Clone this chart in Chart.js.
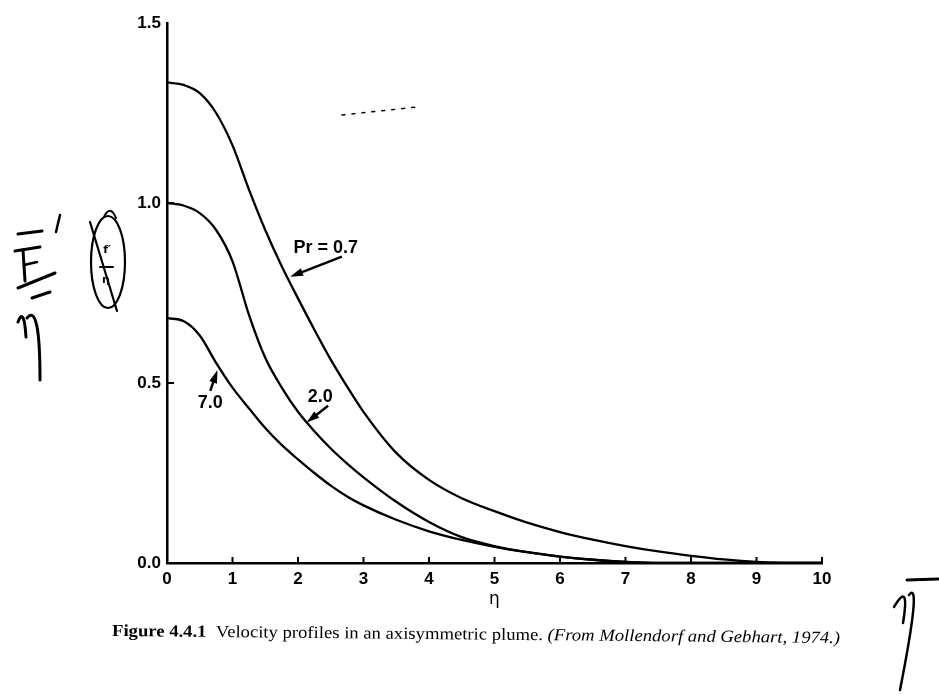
<!DOCTYPE html>
<html>
<head>
<meta charset="utf-8">
<script src="https://cdn.jsdelivr.net/npm/chart.js@4.4.1/dist/chart.umd.min.js"></script>
<style>
html, body { margin: 0; padding: 0; background: #fff; }
</style>
</head>
<body>
<canvas id="chart" width="939" height="698"></canvas>
<script>
// valores (eta, F'/eta)
var eta  = [0, 0.25, 0.5, 0.75, 1, 1.25, 1.5, 1.75, 2, 2.25, 2.5, 2.75, 3, 3.5, 4, 4.5, 5, 5.5, 6, 6.5, 7, 7.5, 8, 8.5, 9, 9.5, 10];
var pr07 = [1.335, 1.328, 1.305, 1.25, 1.16, 1.038, 0.925, 0.825, 0.735, 0.648, 0.565, 0.49, 0.42, 0.306, 0.231, 0.18, 0.144, 0.112, 0.086, 0.065, 0.047, 0.032, 0.02, 0.01, 0.003, 0, 0];
var pr20 = [1.0, 0.993, 0.972, 0.925, 0.838, 0.69, 0.57, 0.488, 0.42, 0.366, 0.318, 0.276, 0.238, 0.17, 0.114, 0.072, 0.047, 0.03, 0.018, 0.009, 0.003, 0, 0, 0, 0, 0, 0];
var pr70 = [0.68, 0.672, 0.632, 0.556, 0.487, 0.43, 0.375, 0.328, 0.288, 0.25, 0.215, 0.185, 0.16, 0.12, 0.088, 0.064, 0.045, 0.03, 0.018, 0.009, 0.003, 0, 0, 0, 0, 0, 0];

var xTicks = [0, 1, 2, 3, 4, 5, 6, 7, 8, 9, 10];
var yTicks = [0.5, 1.0];

// rotulos das curvas: [texto, x do texto, y do texto, cauda x, cauda y, ponta x, ponta y]
var rotulos = [
    ['Pr = 0.7', 1.93, 0.862, 2.67, 0.851, 1.88, 0.795],
    ['2.0', 2.15, 0.446, 2.46, 0.437, 2.13, 0.39],
    ['7.0', 0.47, 0.43, 0.66, 0.478, 0.77, 0.536]
];

function pontos(ys) {
    var out = [];
    for (let i = 0; i < eta.length; i++) out.push({x: eta[i], y: ys[i]});
    return out;
}

function serie(label, ys) {
    return {
        label: label,
        data: pontos(ys),
        borderColor: '#000',
        backgroundColor: '#000',
        borderWidth: 2.3,
        pointRadius: 0,
        fill: false,
        cubicInterpolationMode: 'monotone'
    };
}

function seta(ctx, x1, y1, x2, y2) {
    var ang = Math.atan2(y2 - y1, x2 - x1);
    ctx.beginPath();
    ctx.moveTo(x1, y1);
    ctx.lineTo(x2 - 8 * Math.cos(ang), y2 - 8 * Math.sin(ang));
    ctx.lineWidth = 2.5;
    ctx.stroke();
    ctx.beginPath();
    ctx.moveTo(x2, y2);
    ctx.lineTo(x2 - 13 * Math.cos(ang) + 4 * Math.sin(ang), y2 - 13 * Math.sin(ang) - 4 * Math.cos(ang));
    ctx.lineTo(x2 - 13 * Math.cos(ang) - 4 * Math.sin(ang), y2 - 13 * Math.sin(ang) + 4 * Math.cos(ang));
    ctx.closePath();
    ctx.fill();
}

function traco(ctx, pts, w) {
    ctx.beginPath();
    ctx.moveTo(pts[0][0], pts[0][1]);
    for (let i = 1; i < pts.length; i++) ctx.lineTo(pts[i][0], pts[i][1]);
    ctx.lineWidth = w;
    ctx.stroke();
}

function curva(ctx, a, c, b, w) {
    ctx.beginPath();
    ctx.moveTo(a[0], a[1]);
    ctx.quadraticCurveTo(c[0], c[1], b[0], b[1]);
    ctx.lineWidth = w;
    ctx.stroke();
}

var extras = {
    id: 'extras',
    afterDraw: function(chart) {
        var ctx = chart.ctx;
        var xs = chart.scales.x, ys = chart.scales.y;
        var area = chart.chartArea;
        ctx.save();
        ctx.strokeStyle = '#000';
        ctx.fillStyle = '#000';
        ctx.lineCap = 'butt';

        // marcas para dentro
        xTicks.forEach(function(v) {
            var px = xs.getPixelForValue(v);
            traco(ctx, [[px, area.bottom], [px, area.bottom - 6]], 2);
        });
        yTicks.forEach(function(v) {
            var py = ys.getPixelForValue(v);
            traco(ctx, [[area.left, py], [area.left + 7, py]], 2);
        });

        // titulo do eixo x
        ctx.font = '17px "DejaVu Sans"';
        ctx.textAlign = 'center';
        ctx.textBaseline = 'alphabetic';
        ctx.fillText('η', xs.getPixelForValue(5), 604);

        // rotulos e setas
        ctx.textAlign = 'left';
        ctx.font = 'bold 18px "Liberation Sans"';
        rotulos.forEach(function(r) {
            ctx.fillText(r[0], xs.getPixelForValue(r[1]), ys.getPixelForValue(r[2]));
            seta(ctx, xs.getPixelForValue(r[3]), ys.getPixelForValue(r[4]),
                 xs.getPixelForValue(r[5]), ys.getPixelForValue(r[6]));
        });

        // legenda da figura
        ctx.save();
        ctx.translate(112, 636);
        ctx.rotate(Math.atan2(7, 728));
        var partes = [
            ['bold 17px "Liberation Serif"', 'Figure 4.4.1  '],
            ['17px "Liberation Serif"', 'Velocity profiles in an axisymmetric plume. '],
            ['italic 17px "Liberation Serif"', '(From Mollendorf and Gebhart, 1974.)']
        ];
        var total = 0;
        partes.forEach(function(p) { ctx.font = p[0]; total += ctx.measureText(p[1]).width; });
        ctx.scale(728 / total, 1);
        var cx = 0;
        partes.forEach(function(p) {
            ctx.font = p[0];
            ctx.fillText(p[1], cx, 0);
            cx += ctx.measureText(p[1]).width;
        });
        ctx.restore();

        // anotacoes a mao: F' / eta
        ctx.lineCap = 'round';
        ctx.lineJoin = 'round';
        traco(ctx, [[18, 234], [42, 231]], 3);
        traco(ctx, [[15, 251], [40, 247]], 3);
        traco(ctx, [[23, 250], [25, 281]], 3);
        traco(ctx, [[24, 265], [37, 262]], 2.5);
        traco(ctx, [[60, 215], [56, 232]], 2.5);
        traco(ctx, [[18, 288], [55, 273]], 3);
        traco(ctx, [[32, 298], [50, 292]], 3);
        curva(ctx, [18, 322], [24, 306], [26, 337], 3);
        curva(ctx, [27, 318], [40, 302], [40, 380], 3);

        // simbolo riscado e circulado
        ctx.beginPath();
        ctx.ellipse(108, 262, 17, 46, 0, 0, Math.PI * 2);
        ctx.lineWidth = 2.2;
        ctx.stroke();
        curva(ctx, [104, 217], [110, 204], [116, 218], 2);
        traco(ctx, [[90, 222], [117, 311]], 2.2);
        ctx.font = 'bold 11px "DejaVu Sans"';
        ctx.textAlign = 'center';
        ctx.fillText('f′', 107, 253);
        traco(ctx, [[100, 267], [113, 267]], 2);
        ctx.fillText('η', 106, 283);

        // eta com barra no canto
        traco(ctx, [[907, 580], [938, 579]], 3);
        curva(ctx, [894, 607], [910, 580], [903, 623], 2.5);
        curva(ctx, [909, 595], [922, 578], [900, 690], 2.5);

        // sujeira do scan
        ctx.setLineDash([3, 7]);
        traco(ctx, [[342, 115], [417, 107]], 1.5);
        ctx.setLineDash([]);

        ctx.restore();
    }
};

var ctx = document.getElementById('chart').getContext('2d');
var myChart = new Chart(ctx, {
    type: 'line',
    data: {
        datasets: [
            serie('Pr = 0.7', pr07),
            serie('Pr = 2.0', pr20),
            serie('Pr = 7.0', pr70)
        ]
    },
    options: {
        responsive: false,
        animation: false,
        devicePixelRatio: 1,
        layout: { padding: { left: 107, top: 23, right: 117, bottom: 95 } },
        scales: {
            x: {
                type: 'linear', min: 0, max: 10,
                ticks: { stepSize: 1, color: '#000', padding: 6,
                         font: { family: 'Liberation Sans', size: 17, weight: 'bold' } },
                grid: { display: false, drawTicks: false },
                border: { display: true, color: '#000', width: 2.5 },
                afterFit: function(s) { s.height = 40; }
            },
            y: {
                min: 0, max: 1.5,
                ticks: { stepSize: 0.5, color: '#000', padding: 6,
                         font: { family: 'Liberation Sans', size: 17, weight: 'bold' },
                         callback: function(v) { return v.toFixed(1); } },
                grid: { display: false, drawTicks: false },
                border: { display: true, color: '#000', width: 2.5 },
                afterFit: function(s) { s.width = 60; }
            }
        },
        plugins: {
            legend: { display: false },
            tooltip: { enabled: false }
        }
    },
    plugins: [extras]
});
</script>
</body>
</html>
